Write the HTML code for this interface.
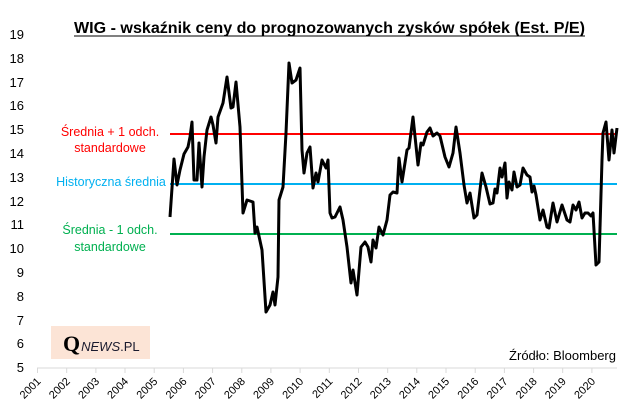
<!DOCTYPE html>
<html><head><meta charset="utf-8"><style>
html,body{margin:0;padding:0;background:#fff;}
svg{display:block;font-family:"Liberation Sans",sans-serif;}
</style></head><body>
<svg width="643" height="416" viewBox="0 0 643 416" xmlns="http://www.w3.org/2000/svg">
<rect width="643" height="416" fill="#fff"/>
<text x="74" y="33" font-size="16" font-weight="bold" textLength="511" lengthAdjust="spacingAndGlyphs" fill="#000">WIG - wskaźnik ceny do prognozowanych zysków spółek (Est. P/E)</text>
<line x1="74" y1="36" x2="585" y2="36" stroke="#000" stroke-width="1"/>
<g font-size="13" fill="#000" text-anchor="end">
<text x="24" y="39">19</text><text x="24" y="63">18</text><text x="24" y="87">17</text><text x="24" y="110">16</text><text x="24" y="134">15</text><text x="24" y="158">14</text><text x="24" y="182">13</text><text x="24" y="206">12</text><text x="24" y="229">11</text><text x="24" y="253">10</text><text x="24" y="277">9</text><text x="24" y="301">8</text><text x="24" y="325">7</text><text x="24" y="348">6</text><text x="24" y="372">5</text>
</g>
<line x1="37" y1="368" x2="617" y2="368" stroke="#d9d9d9" stroke-width="1"/>
<g stroke="#d9d9d9" stroke-width="1">
<line x1="37.5" y1="368" x2="37.5" y2="373"/><line x1="66.7" y1="368" x2="66.7" y2="373"/><line x1="95.9" y1="368" x2="95.9" y2="373"/><line x1="125" y1="368" x2="125" y2="373"/><line x1="154.2" y1="368" x2="154.2" y2="373"/><line x1="183.4" y1="368" x2="183.4" y2="373"/><line x1="212.6" y1="368" x2="212.6" y2="373"/><line x1="241.8" y1="368" x2="241.8" y2="373"/><line x1="270.9" y1="368" x2="270.9" y2="373"/><line x1="300.1" y1="368" x2="300.1" y2="373"/><line x1="329.3" y1="368" x2="329.3" y2="373"/><line x1="358.5" y1="368" x2="358.5" y2="373"/><line x1="387.7" y1="368" x2="387.7" y2="373"/><line x1="416.8" y1="368" x2="416.8" y2="373"/><line x1="446" y1="368" x2="446" y2="373"/><line x1="475.2" y1="368" x2="475.2" y2="373"/><line x1="504.4" y1="368" x2="504.4" y2="373"/><line x1="533.6" y1="368" x2="533.6" y2="373"/><line x1="562.7" y1="368" x2="562.7" y2="373"/><line x1="591.9" y1="368" x2="591.9" y2="373"/>
</g>
<g font-size="11" fill="#000" text-anchor="end">
<text transform="translate(41.5,382) rotate(-45)">2001</text>
<text transform="translate(70.7,382) rotate(-45)">2002</text>
<text transform="translate(99.9,382) rotate(-45)">2003</text>
<text transform="translate(129,382) rotate(-45)">2004</text>
<text transform="translate(158.2,382) rotate(-45)">2005</text>
<text transform="translate(187.4,382) rotate(-45)">2006</text>
<text transform="translate(216.6,382) rotate(-45)">2007</text>
<text transform="translate(245.8,382) rotate(-45)">2008</text>
<text transform="translate(274.9,382) rotate(-45)">2009</text>
<text transform="translate(304.1,382) rotate(-45)">2010</text>
<text transform="translate(333.3,382) rotate(-45)">2011</text>
<text transform="translate(362.5,382) rotate(-45)">2012</text>
<text transform="translate(391.7,382) rotate(-45)">2013</text>
<text transform="translate(420.8,382) rotate(-45)">2014</text>
<text transform="translate(450,382) rotate(-45)">2015</text>
<text transform="translate(479.2,382) rotate(-45)">2016</text>
<text transform="translate(508.4,382) rotate(-45)">2017</text>
<text transform="translate(537.6,382) rotate(-45)">2018</text>
<text transform="translate(566.7,382) rotate(-45)">2019</text>
<text transform="translate(595.9,382) rotate(-45)">2020</text>
</g>
<line x1="170" y1="134" x2="617" y2="134" stroke="#ff0000" stroke-width="2"/>
<line x1="170" y1="184" x2="617" y2="184" stroke="#00b0f0" stroke-width="2"/>
<line x1="170" y1="234" x2="617" y2="234" stroke="#00b050" stroke-width="2"/>
<g font-size="12.5" text-anchor="middle">
<text x="110" y="136" fill="#ff0000">Średnia + 1 odch.</text>
<text x="110" y="152" fill="#ff0000">standardowe</text>
<text x="111" y="186" fill="#00b0f0">Historyczna średnia</text>
<text x="110" y="234" fill="#00b050">Średnia - 1 odch.</text>
<text x="110" y="251" fill="#00b050">standardowe</text>
</g>
<polyline fill="none" stroke="#000" stroke-width="3" stroke-linejoin="round" points="170,217 174,159 177,185 180,170 184,154 188,147 190,137 192,122 194,180 197,180 199,143 202,187 204,157 207,130 211,117 213,125 216,143 218,117 223,103 227,77 231,108 233,107 236,82 240,127 243,213 247,200 253,202 255,233 257,227 262,250 266,312 270,305 273,292 275,305 278,277 279,200 283,187 286,133 289,63 292,83 296,80 300,68 302,150 304,173 307,153 310,147 313,188 316,173 318,182 322,160 326,168 328,160 330,213 332,218 335,217 340,207 343,220 347,247 351,283 353,270 357,295 361,247 365,242 368,247 371,262 373,240 376,248 379,227 383,235 387,220 390,195 393,192 397,193 399,158 402,182 407,150 409,148 413,117 418,165 421,143 423,145 427,132 430,128 433,136 437,133 440,136 445,157 449,167 453,153 456,127 460,153 464,185 467,203 470,193 474,218 477,215 482,173 486,187 490,204 493,203 495,189 497,193 500,168 502,177 505,163 507,198 509,182 512,190 514,172 517,187 520,185 523,168 527,175 530,177 532,192 534,186 536,195 540,220 543,210 547,227 549,228 553,203 557,222 562,205 567,220 570,222 573,205 576,210 579,202 582,218 585,213 588,213 591,216 593,213 596,265 599,262 602,160 603,133 606,122 609,160 612,130 614,153 617,128"/>
<rect x="51" y="326" width="99" height="33" fill="#fce4d6"/>
<text x="63" y="351" fill="#000"><tspan font-family="Liberation Serif,serif" font-size="22" font-weight="bold">Q</tspan><tspan font-size="13" font-style="italic" fill="#1a1a2e" dx="1">NEWS</tspan><tspan font-size="13" fill="#1a1a2e">.PL</tspan></text>
<text x="616" y="360" font-size="13" text-anchor="end" fill="#000">Źródło: Bloomberg</text>
</svg>
</body></html>
